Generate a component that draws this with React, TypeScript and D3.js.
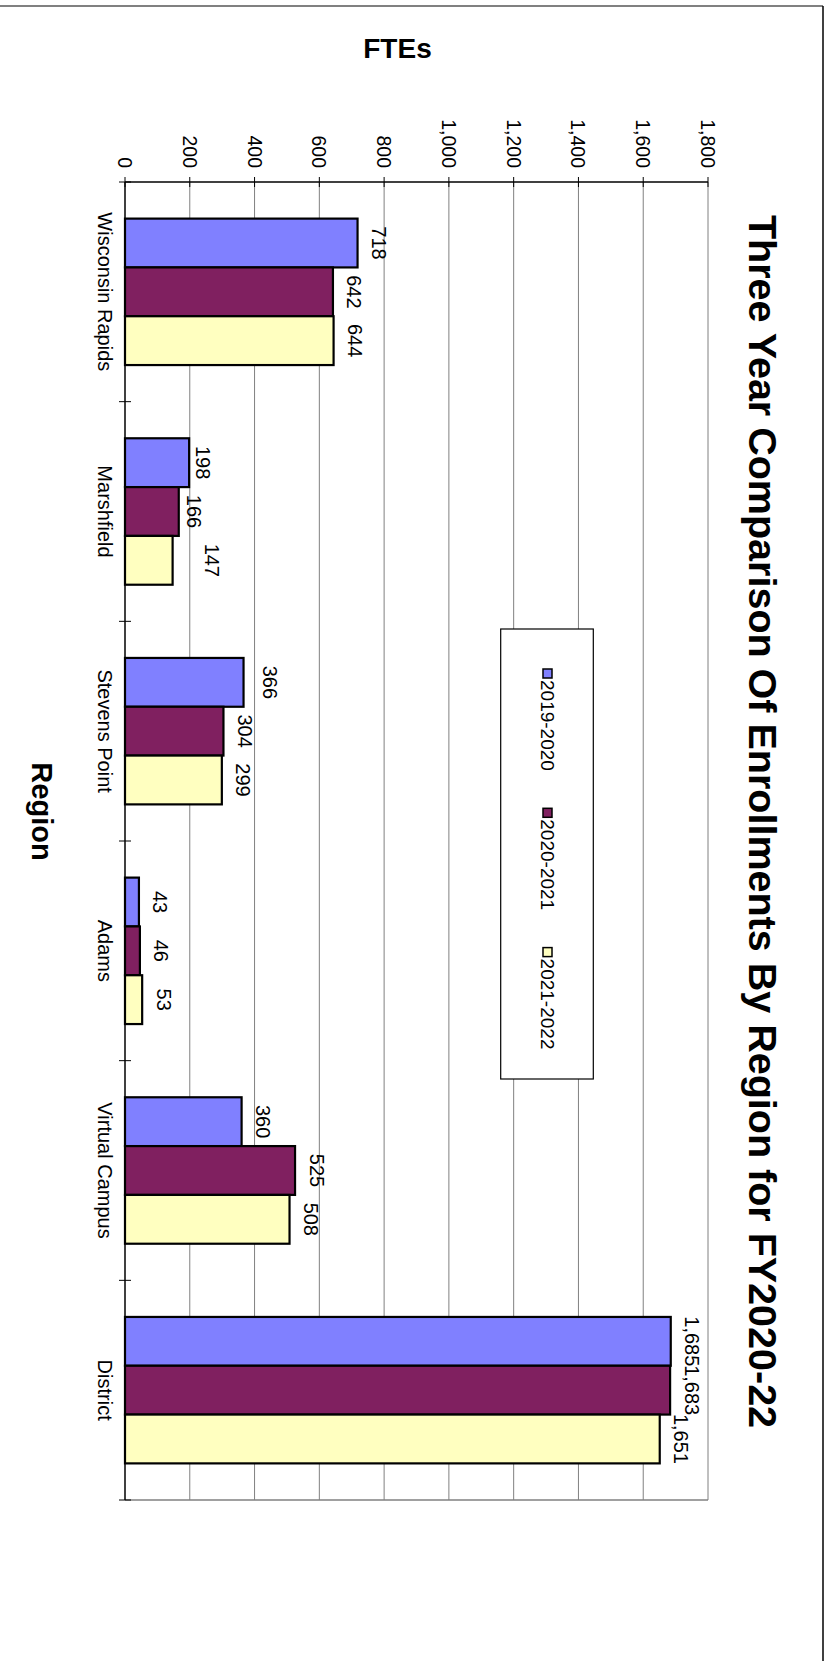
import React from "react";
import * as d3 from "d3";

const categories = ["Wisconsin Rapids", "Marshfield", "Stevens Point", "Adams", "Virtual Campus", "District"];
const seriesNames = ["2019-2020", "2020-2021", "2021-2022"];
const values2019 = [718, 198, 366, 43, 360, 1685];
const values2020 = [642, 166, 304, 46, 525, 1683];
const values2021 = [644, 147, 299, 53, 508, 1651];
const valueTicks = [0, 200, 400, 600, 800, 1000, 1200, 1400, 1600, 1800];
const chartTitle = "Three Year Comparison Of Enrollments By Region for FY2020-22";
const valueTitle = "FTEs";
const categoryTitle = "Region";

// layout / style (not data)
const W = 831;
const H = 1661;
const seriesColors = ["#8080FF", "#802060", "#FFFFC0"];
const FONT = "'Liberation Sans', Arial, Helvetica, sans-serif";
// per-label nudges (px, along value direction) matching the reference placement
const labelNudge = [
  [0, 0, 0],
  [-7.5, -6.5, 17.5],
  [4.5, 0, 0],
  [0, 0, 0],
  [0, 0, 0],
  [0, 0, 0],
];

export default function App() {
  const seriesValues = [values2019, values2020, values2021];

  // Original (unrotated) chart coordinates: u horizontal, v vertical.
  const plotU0 = 182;
  const plotU1 = 1500;
  const plotV0 = 123; // value 1800
  const plotV1 = 706; // value 0

  const yScale = d3.scaleLinear().domain([0, 1800]).range([plotV1, plotV0]);
  const xBand = d3.scaleBand<string>().domain(categories).range([plotU0, plotU1]).paddingInner(0).paddingOuter(0);
  const step = xBand.step();
  const groupW = (step * 3) / 4.5;
  const inner = d3
    .scaleBand<string>()
    .domain(seriesNames)
    .range([(step - groupW) / 2, (step + groupW) / 2])
    .padding(0);

  const fmt = d3.format(",");

  const catBoundaries = d3.range(categories.length + 1).map((k) => plotU0 + k * step);

  return (
    <svg
      width={W}
      height={H}
      style={{ position: "absolute", left: 0, top: 0, background: "#fff" }}
      fontFamily={FONT}
    >
      <rect x={0} y={0} width={W} height={H} fill="#fff" />
      {/* outer frame */}
      <line x1={0} x2={823} y1={6} y2={6} stroke="#808080" strokeWidth={2} />
      <line x1={823} x2={823} y1={6} y2={H} stroke="#000" strokeWidth={1.5} />

      {/* value axis title (horizontal in portrait) */}
      <text x={397.5} y={58} textAnchor="middle" fontWeight="bold" fontSize={28} fill="#000">
        {valueTitle}
      </text>

      <g transform={`translate(${W},0) rotate(90)`}>
        {/* gridlines */}
        {valueTicks.slice(1).map((t) => (
          <line
            key={"g" + t}
            x1={plotU0}
            x2={plotU1}
            y1={yScale(t)}
            y2={yScale(t)}
            stroke="#808080"
            strokeWidth={1}
          />
        ))}
        {/* plot border right */}
        <line x1={plotU1} x2={plotU1} y1={plotV0} y2={plotV1} stroke="#808080" strokeWidth={1.5} />

        {/* bars */}
        {categories.map((c, ci) =>
          seriesNames.map((s, si) => {
            const v = seriesValues[si][ci];
            const x = (xBand(c) as number) + (inner(s) as number);
            return (
              <rect
                key={c + s}
                x={x}
                y={yScale(v)}
                width={inner.bandwidth()}
                height={yScale(0) - yScale(v)}
                fill={seriesColors[si]}
                stroke="#000"
                strokeWidth={2.2}
              />
            );
          })
        )}

        {/* value axis (left in original) */}
        <line x1={plotU0} x2={plotU0} y1={plotV0} y2={plotV1} stroke="#000" strokeWidth={1.5} />
        {valueTicks.map((t) => (
          <g key={"t" + t}>
            <line x1={plotU0 - 5} x2={plotU0 + 5} y1={yScale(t)} y2={yScale(t)} stroke="#000" strokeWidth={1} />
            <text x={168} y={yScale(t) + 7} textAnchor="end" fontSize={19.5} fill="#000">
              {fmt(t)}
            </text>
          </g>
        ))}

        {/* category axis (bottom in original) */}
        <line x1={plotU0} x2={plotU1} y1={plotV1} y2={plotV1} stroke="#000" strokeWidth={1.5} />
        {catBoundaries.map((u, i) => (
          <line key={"cb" + i} x1={u} x2={u} y1={plotV1 - 6} y2={plotV1 + 6} stroke="#000" strokeWidth={1} />
        ))}
        {categories.map((c) => (
          <text
            key={"cl" + c}
            x={(xBand(c) as number) + step / 2}
            y={733.5}
            textAnchor="middle"
            fontSize={20}
            fill="#000"
          >
            {c}
          </text>
        ))}

        {/* data labels */}
        {categories.map((c, ci) =>
          seriesNames.map((s, si) => {
            const v = seriesValues[si][ci];
            const x = (xBand(c) as number) + (inner(s) as number) + inner.bandwidth() / 2;
            return (
              <text
                key={"dl" + c + s}
                x={x}
                y={yScale(v) - 14.5 - labelNudge[ci][si]}
                textAnchor="middle"
                fontSize={20}
                fill="#000"
              >
                {fmt(v)}
              </text>
            );
          })
        )}

        {/* legend */}
        <rect x={629} y={237.7} width={450} height={92.6} fill="#fff" stroke="#000" strokeWidth={1.2} />
        {seriesNames.map((s, si) => (
          <g key={"lg" + s} transform={`translate(${669 + si * 139.3},0)`}>
            <rect x={0} y={279} width={9} height={9} fill={seriesColors[si]} stroke="#000" strokeWidth={1.5} />
            <text x={11} y={290} fontSize={19} fill="#000">
              {s}
            </text>
          </g>
        ))}

        {/* chart title */}
        <text x={821.5} y={82} textAnchor="middle" fontWeight="bold" fontSize={39.5} fill="#000">
          {chartTitle}
        </text>

        {/* category axis title */}
        <text x={811.5} y={799} textAnchor="middle" fontWeight="bold" fontSize={29} fill="#000">
          {categoryTitle}
        </text>
      </g>
    </svg>
  );
}
